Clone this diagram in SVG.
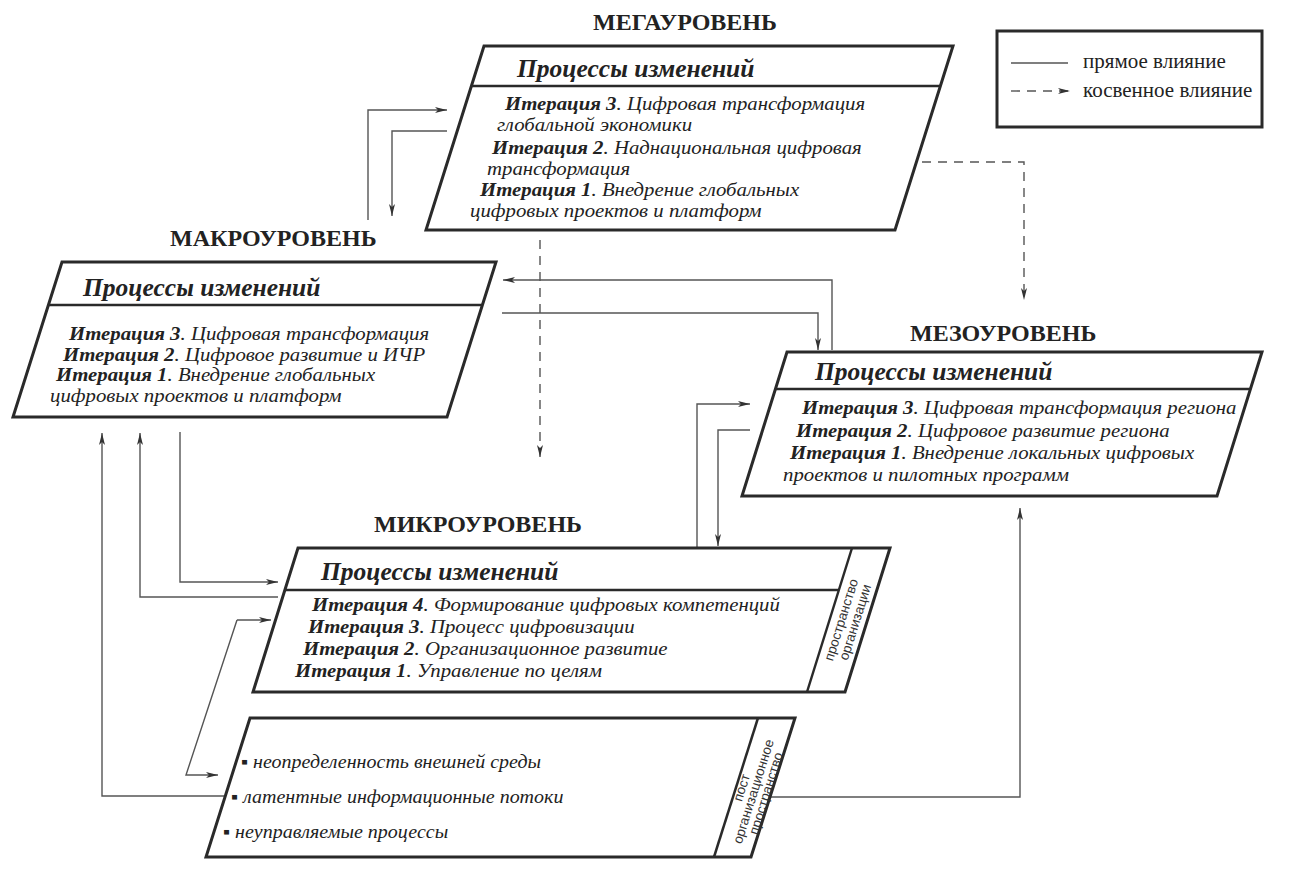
<svg xmlns="http://www.w3.org/2000/svg" width="1291" height="870" viewBox="0 0 1291 870">
  <defs>
    <marker id="ah" viewBox="0 0 12 6" refX="12" refY="3" markerWidth="12" markerHeight="6" markerUnits="userSpaceOnUse" orient="auto">
      <path d="M0,0 L12,3 L0,6 L3,3 z" fill="#333"/>
    </marker>
    <style>
      .box { fill: #fff; stroke: #2a2a2a; stroke-width: 3; stroke-linejoin: miter; }
      .div { stroke: #2a2a2a; stroke-width: 2.5; fill: none; }
      .con { stroke: #555; stroke-width: 1.4; fill: none; }
      .dash { stroke: #555; stroke-width: 1.4; fill: none; stroke-dasharray: 9 7; }
      .lvl { font-family: "Liberation Serif", serif; font-weight: bold; font-size: 24px; fill: #222; }
      .hd { font-family: "Liberation Serif", serif; font-weight: bold; font-style: italic; font-size: 25.5px; fill: #222; }
      .it { font-family: "Liberation Serif", serif; font-style: italic; font-size: 18.5px; fill: #222; }
      .b { font-weight: bold; }
      .lg { font-family: "Liberation Serif", serif; font-size: 21px; fill: #222; }
      .vt { font-family: "Liberation Sans", sans-serif; font-size: 13.5px; fill: #333; text-anchor: middle; }
      .bl { font-family: "Liberation Serif", serif; font-style: italic; font-size: 18.5px; fill: #222; }
    </style>
  </defs>
  <rect width="1291" height="870" fill="#fff"/>

  <!-- legend -->
  <g id="legend">
    <rect x="997" y="31" width="265" height="96" fill="#fff" stroke="#2a2a2a" stroke-width="3"/>
    <line x1="1011" y1="63" x2="1068" y2="63" class="con"/>
    <text x="1083" y="68" class="lg">прямое влияние</text>
    <line x1="1011" y1="91" x2="1070" y2="91" class="dash" marker-end="url(#ah)"/>
    <text x="1083" y="97" class="lg">косвенное влияние</text>
  </g>

  <!-- connectors -->
  <g id="connectors">
    <!-- macro <-> mega -->
    <polyline points="368,220 368,110 447,110" class="con" marker-end="url(#ah)"/>
    <polyline points="447,131 392,131 392,216" class="con" marker-end="url(#ah)"/>
    <!-- macro <-> meso -->
    <polyline points="832,350 832,280 503,280" class="con" marker-end="url(#ah)"/>
    <polyline points="502,313 818,313 818,350" class="con" marker-end="url(#ah)"/>
    <!-- indirect influence from the mega level -->
    <polyline points="922,162 1024,162 1024,300" class="dash" marker-end="url(#ah)"/>
    <line x1="540" y1="240" x2="540" y2="457" class="dash" marker-end="url(#ah)"/>
    <!-- macro <-> micro -->
    <polyline points="180,432 180,582 278,582" class="con" marker-end="url(#ah)"/>
    <polyline points="278,597 140,597 140,433" class="con" marker-end="url(#ah)"/>
    <!-- post-organisational space -> macro -->
    <polyline points="232,796 102,796 102,433" class="con" marker-end="url(#ah)"/>
    <!-- micro <-> post-organisational space -->
    <polyline points="237,620 186,775 218,775" class="con" marker-end="url(#ah)"/>
    <line x1="237" y1="620" x2="271" y2="620" class="con" marker-end="url(#ah)"/>
    <!-- micro <-> meso -->
    <polyline points="697,547 697,404 750,404" class="con" marker-end="url(#ah)"/>
    <polyline points="750,430 718,430 718,546" class="con" marker-end="url(#ah)"/>
    <!-- post-organisational space -> meso -->
    <polyline points="768,797 1020,797 1020,508" class="con" marker-end="url(#ah)"/>
  </g>

  <!-- mega level -->
  <g id="mega">
    <text x="593" y="30" class="lvl">МЕГАУРОВЕНЬ</text>
    <polygon points="484,46 953,46 895,230 426,230" class="box"/>
    <line x1="471.4" y1="86" x2="940.4" y2="86" class="div"/>
    <text x="517" y="77" class="hd">Процессы изменений</text>
    <text transform="translate(505,110) scale(1.124,1)" class="it"><tspan class="b">Итерация 3</tspan>. Цифровая трансформация</text>
    <text transform="translate(497,131) scale(1.124,1)" class="it">глобальной экономики</text>
    <text transform="translate(492,154) scale(1.124,1)" class="it"><tspan class="b">Итерация 2</tspan>. Наднациональная цифровая</text>
    <text transform="translate(487,175) scale(1.124,1)" class="it">трансформация</text>
    <text transform="translate(480,196) scale(1.124,1)" class="it"><tspan class="b">Итерация 1</tspan>. Внедрение глобальных</text>
    <text transform="translate(470,217) scale(1.124,1)" class="it">цифровых проектов и платформ</text>
  </g>

  <!-- macro level -->
  <g id="macro">
    <text x="170" y="246" class="lvl">МАКРОУРОВЕНЬ</text>
    <polygon points="62,262 496,262 447,417 13,417" class="box"/>
    <line x1="48.5" y1="305" x2="482.5" y2="305" class="div"/>
    <text x="83" y="296" class="hd">Процессы изменений</text>
    <text transform="translate(69,340) scale(1.124,1)" class="it"><tspan class="b">Итерация 3</tspan>. Цифровая трансформация</text>
    <text transform="translate(63,361) scale(1.124,1)" class="it"><tspan class="b">Итерация 2</tspan>. Цифровое развитие и ИЧР</text>
    <text transform="translate(56,381) scale(1.124,1)" class="it"><tspan class="b">Итерация 1</tspan>. Внедрение глобальных</text>
    <text transform="translate(50,402) scale(1.124,1)" class="it">цифровых проектов и платформ</text>
  </g>

  <!-- meso level -->
  <g id="meso">
    <text x="910" y="341" class="lvl">МЕЗОУРОВЕНЬ</text>
    <polygon points="787,352 1262,352 1217,496 742,496" class="box"/>
    <line x1="775.3" y1="389" x2="1250.3" y2="389" class="div"/>
    <text x="815" y="380" class="hd">Процессы изменений</text>
    <text transform="translate(802,414) scale(1.124,1)" class="it"><tspan class="b">Итерация 3</tspan>. Цифровая трансформация региона</text>
    <text transform="translate(796,437) scale(1.124,1)" class="it"><tspan class="b">Итерация 2</tspan>. Цифровое развитие региона</text>
    <text transform="translate(790,459) scale(1.124,1)" class="it"><tspan class="b">Итерация 1</tspan>. Внедрение локальных цифровых</text>
    <text transform="translate(783,481) scale(1.124,1)" class="it">проектов и пилотных программ</text>
  </g>

  <!-- micro level -->
  <g id="micro">
    <text x="374" y="532" class="lvl">МИКРОУРОВЕНЬ</text>
    <polygon points="298,548 890,548 845,692 253,692" class="box"/>
    <line x1="852" y1="548" x2="807" y2="692" class="div"/>
    <line x1="284.8" y1="590" x2="838.8" y2="590" class="div"/>
    <text x="321" y="580" class="hd">Процессы изменений</text>
    <text transform="translate(312,611) scale(1.124,1)" class="it"><tspan class="b">Итерация 4</tspan>. Формирование цифровых компетенций</text>
    <text transform="translate(308,633) scale(1.124,1)" class="it"><tspan class="b">Итерация 3</tspan>. Процесс цифровизации</text>
    <text transform="translate(303,655) scale(1.124,1)" class="it"><tspan class="b">Итерация 2</tspan>. Организационное развитие</text>
    <text transform="translate(295,677) scale(1.124,1)" class="it"><tspan class="b">Итерация 1</tspan>. Управление по целям</text>
    <text transform="translate(848,620) rotate(-72.5)" class="vt">
      <tspan x="0" y="-2">пространство</tspan>
      <tspan x="0" y="12">организации</tspan>
    </text>
  </g>

  <!-- post-organisational space -->
  <g id="post">
    <polygon points="250,718 795,718 751,857 206,857" class="box"/>
    <line x1="758" y1="718" x2="714" y2="857" class="div"/>
    <text transform="translate(241,768) scale(1.08,1)" class="bl">▪  неопределенность внешней среды</text>
    <text transform="translate(231,803) scale(1.08,1)" class="bl">▪  латентные информационные потоки</text>
    <text transform="translate(223,838) scale(1.08,1)" class="bl">▪  неуправляемые процессы</text>
    <text transform="translate(755,790) rotate(-72.5)" class="vt">
      <tspan x="0" y="-9">пост</tspan>
      <tspan x="0" y="3.5">организационное</tspan>
      <tspan x="0" y="16">пространство</tspan>
    </text>
  </g>
</svg>
